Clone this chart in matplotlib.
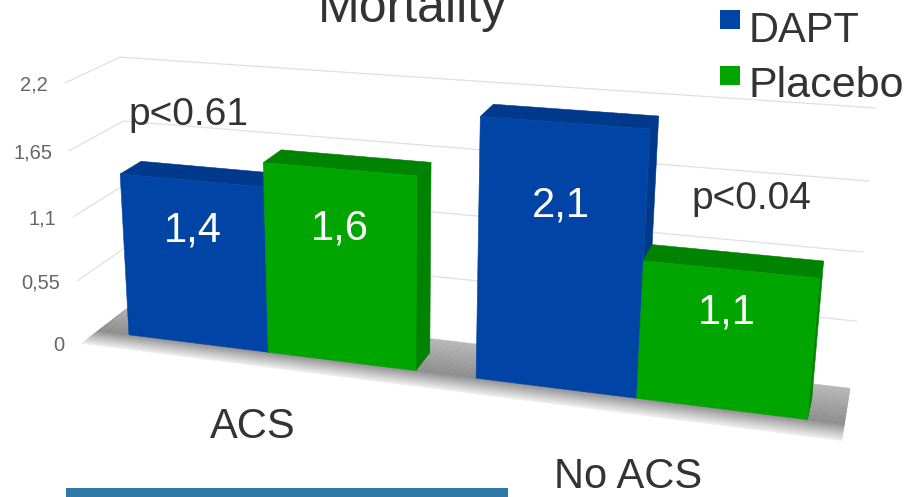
import matplotlib
matplotlib.use("Agg")
import matplotlib.pyplot as plt
from matplotlib.patches import Rectangle
import numpy as np

categories = ["ACS", "No ACS"]
series_names = ["DAPT", "Placebo"]
dapt_values = [1.4, 2.1]
placebo_values = [1.6, 1.1]
value_labels = [["1,4", "2,1"], ["1,6", "1,1"]]
tick_values = [0, 0.55, 1.1, 1.65, 2.2]
tick_labels = ["0", "0,55", "1,1", "1,65", "2,2"]
p_labels = ["p<0.61", "p<0.04"]

FONT = "Liberation Sans"
INK = "#333333"
VMAX = 2.2
BLUE = ("#0045a5", "#00388c")
GREEN = ("#00a500", "#008300")

# corners of the chart box: (x, depth, value fraction) -> pixel position
box_corners = [
    ((0, 0, 0), (85, 345)), ((1, 0, 0), (841, 441)),
    ((0, 1, 0), (130, 302)), ((1, 1, 0), (851, 388)),
    ((0, 0, 1), (62, 81)), ((0, 1, 1), (123, 59)),
    ((1, 1, 1), (876, 108)),
]

# bar layout inside the box
BAR_W = 0.207
GROUP_STARTS = [0.048, 0.543]
DEPTH_FRONT, DEPTH_BACK = 0.30, 0.70


def fit_camera(corners):
    rows, rhs = [], []
    for (x, d, v), (u, w) in corners:
        rows.append([x, d, v, 1, 0, 0, 0, 0, -u * x, -u * d, -u * v])
        rows.append([0, 0, 0, 0, x, d, v, 1, -w * x, -w * d, -w * v])
        rhs += [u, w]
    sol = np.linalg.lstsq(np.array(rows, float), np.array(rhs, float), rcond=None)[0]
    return np.append(sol, 1).reshape(3, 4)


camera = fit_camera(box_corners)


def project(x, d, value):
    p = camera @ np.array([x, d, value / VMAX, 1.0])
    return p[0] / p[2], p[1] / p[2]


def face(ax, pts, color, zorder):
    ax.fill(*zip(*[project(*p) for p in pts]), color=color, lw=0.4, zorder=zorder)


def draw_bar(ax, x0, value, colors, zorder):
    x1 = x0 + BAR_W
    f, b = DEPTH_FRONT, DEPTH_BACK
    face(ax, [(x1, f, 0), (x1, b, 0), (x1, b, value), (x1, f, value)], colors[1], zorder)
    face(ax, [(x0, f, value), (x1, f, value), (x1, b, value), (x0, b, value)], colors[1], zorder)
    face(ax, [(x0, f, 0), (x1, f, 0), (x1, f, value), (x0, f, value)], colors[0], zorder)


fig = plt.figure(figsize=(9.14, 4.97), dpi=100)
ax = fig.add_axes([0, 0, 1, 1])
ax.set_xlim(0, 914)
ax.set_ylim(497, 0)
ax.axis("off")

# gridlines along the side and back walls
for v in tick_values[1:]:
    pts = [project(0, 0, v), project(0, 1, v), project(1, 1, v)]
    ax.plot(*zip(*pts), color="#e0e0e0", lw=0.9, zorder=1)

# floor shadow, darkest just in front of the bars
depths = np.linspace(0, 1, 41)
shades = np.interp(depths, [0, 0.3, 1], [0.93, 0.55, 0.72])
for d0, d1, s in zip(depths[:-1], depths[1:], shades):
    face(ax, [(0, d0, 0), (1, d0, 0), (1, d1, 0), (0, d1, 0)], str(s), 2)

z = 3
for g, start in enumerate(GROUP_STARTS):
    for s, (vals, colors) in enumerate(zip([dapt_values, placebo_values], [BLUE, GREEN])):
        x0 = start + s * BAR_W
        draw_bar(ax, x0, vals[g], colors, z)
        z += 1
        px, py = project(x0 + BAR_W / 2, DEPTH_FRONT, vals[g] * 0.7)
        ax.text(px, py, value_labels[s][g], color="white", fontsize=30, family=FONT,
                ha="center", va="center", zorder=20)

for v, lab in zip(tick_values, tick_labels):
    px, py = project(0, 0, v)
    ax.text(px - 17, py + 2, lab, color="#666666", fontsize=14.5, family=FONT,
            ha="right", va="center")

text_kw = dict(color=INK, family=FONT, ha="center", va="baseline")
ax.text(412, 22, "Mortality", fontsize=36, **text_kw)
ax.text(188, 125, p_labels[0], fontsize=28, **text_kw)
ax.text(751, 209, p_labels[1], fontsize=28, **text_kw)
ax.text(253, 438, categories[0], fontsize=30, **text_kw)
ax.text(628, 488, categories[1], fontsize=30, **text_kw)

# legend
for y, base, size, name, colors in zip([10, 66], [42, 97], [30, 31], series_names, [BLUE, GREEN]):
    ax.add_patch(Rectangle((720, y), 20, 19, color=colors[0], lw=0))
    ax.text(749, base, name, fontsize=size, color=INK, family=FONT, ha="left", va="baseline")

# strip along the lower edge
ax.add_patch(Rectangle((66, 488), 442, 9, color="#2f78a8", lw=0))

fig.savefig("out.png", dpi=100)
